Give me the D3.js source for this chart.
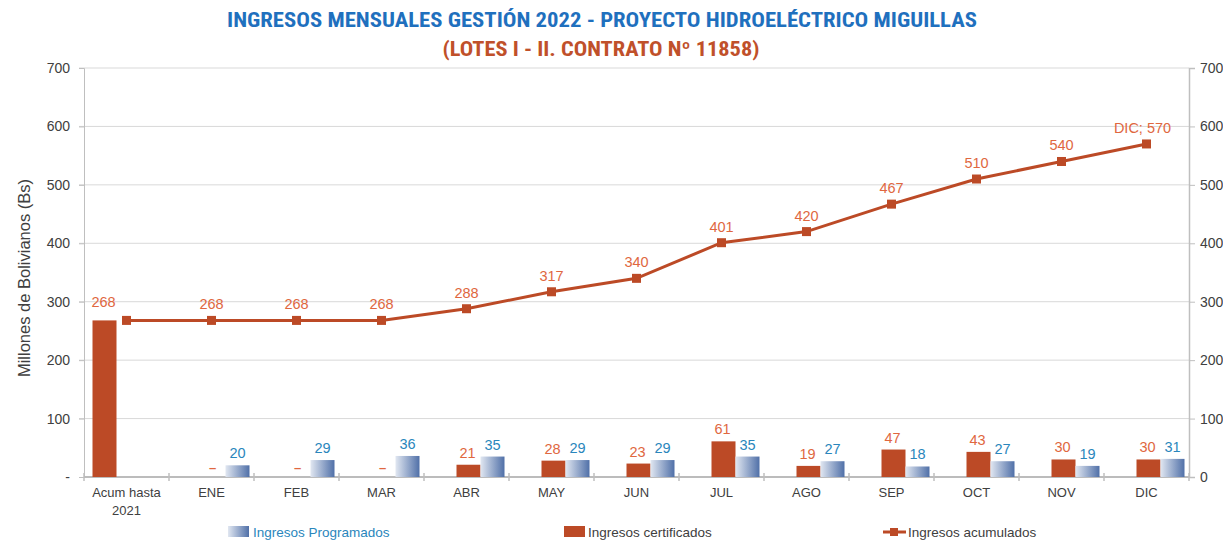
<!DOCTYPE html>
<html><head><meta charset="utf-8">
<script src="https://cdn.jsdelivr.net/npm/d3@7"></script>
<style>
body{margin:0;background:#fff;}
svg{display:block;font-family:"Liberation Sans",Arial,sans-serif;}
</style></head><body>
<svg id="c" width="1223" height="543"></svg>
<script>
const categories = ["Acum hasta 2021","ENE","FEB","MAR","ABR","MAY","JUN","JUL","AGO","SEP","OCT","NOV","DIC"];
const certificados = [268,0,0,0,21,28,23,61,19,47,43,30,30];
const programados = [null,20,29,36,35,29,29,35,27,18,27,19,31];
const acumulados = [268,268,268,268,288,317,340,401,420,467,510,540,570];
const yTicks = [0,100,200,300,400,500,600,700];

const m={l:84,r:1189,t:68,b:477};
const svg=d3.select("#c");
const red="#BC4A26", redLbl="#E0673F", blueLbl="#2A86BC", axisCol="#BFBFBF", txt="#404040";

const defs=svg.append("defs");
const g1=defs.append("linearGradient").attr("id","gb").attr("x1","0").attr("x2","1").attr("y1","0").attr("y2","0");
g1.append("stop").attr("offset","0").attr("stop-color","#E1E7F1");
g1.append("stop").attr("offset","1").attr("stop-color","#5070A8");

const x=d3.scaleBand().domain(categories).range([m.l,m.r]).padding(0);
const y=d3.scaleLinear().domain([0,700]).range([m.b,m.t]);
const sub=d3.scaleBand().domain(["prev","cert","prog"]).range([-34,38]);
const cx=c=>x(c)+x.bandwidth()/2;

// gridlines
svg.append("g").selectAll("line").data(yTicks.filter(d=>d>0)).join("line")
 .attr("x1",m.l-5).attr("x2",m.r).attr("y1",d=>y(d)).attr("y2",d=>y(d))
 .attr("stroke","#D9D9D9").attr("stroke-width",1);

// left axis
const la=svg.append("g").attr("transform",`translate(${m.l},0)`)
 .call(d3.axisLeft(y).tickValues(yTicks).tickSize(5).tickPadding(9).tickFormat(d=>d===0?"-":d));
la.select(".domain").attr("stroke",axisCol);
la.selectAll(".tick line").attr("stroke",axisCol);
la.selectAll("text").attr("fill",txt).style("font-size","14px").style("font-family","inherit");

// right axis
const ra=svg.append("g").attr("transform",`translate(${m.r},0)`)
 .call(d3.axisRight(y).tickValues(yTicks).tickSize(6).tickPadding(5).tickFormat(d=>d));
ra.select(".domain").attr("stroke",axisCol).attr("stroke-width",1.5);
ra.selectAll(".tick line").attr("stroke",axisCol);
ra.selectAll("text").attr("fill",txt).style("font-size","14px").style("font-family","inherit");

// x axis
svg.append("line").attr("x1",m.l).attr("x2",m.r).attr("y1",m.b).attr("y2",m.b).attr("stroke","#A6A6A6").attr("stroke-width",1.5);
svg.append("g").selectAll("line").data(d3.range(categories.length+1)).join("line")
 .attr("x1",i=>m.l+i*x.step()).attr("x2",i=>m.l+i*x.step())
 .attr("y1",m.b-4).attr("y2",m.b+4).attr("stroke",axisCol).attr("stroke-width",1.5);
const xl=svg.append("g").selectAll("text").data(categories).join("text")
 .attr("x",d=>cx(d)).attr("y",497).attr("text-anchor","middle").attr("fill",txt).style("font-size","13px");
xl.each(function(d){
  const t=d3.select(this);
  if(d.startsWith("Acum")){
    t.append("tspan").attr("x",cx(d)).attr("dy",0).text("Acum hasta");
    t.append("tspan").attr("x",cx(d)).attr("dy",18).text("2021");
  } else t.text(d);
});

// bars
const bars=svg.append("g");
categories.forEach((c,i)=>{
  const v=certificados[i];
  const slot=i===0?"prev":"cert";
  bars.append("rect").attr("x",cx(c)+sub(slot)).attr("width",sub.bandwidth())
   .attr("y",y(v)).attr("height",y(0)-y(v)).attr("fill",red);
  const p=programados[i];
  if(p!=null){
    bars.append("rect").attr("x",cx(c)+sub("prog")).attr("width",sub.bandwidth())
     .attr("y",y(p)).attr("height",y(0)-y(p)).attr("fill","url(#gb)");
  }
});
// bar labels
categories.forEach((c,i)=>{
  const v=certificados[i];
  const slot=i===0?"prev":"cert";
  const t=svg.append("text").attr("x",cx(c)+sub(slot)+sub.bandwidth()/2-1).attr("y",y(v)-(v===0?5:(i===0?13:7)))
   .attr("text-anchor","middle").attr("fill",redLbl).style("font-size","14.5px")
   .text(v===0?"–":v);
  if(v===0) t.style("font-weight","bold").style("font-size","13px");
  const p=programados[i];
  if(p!=null){
    svg.append("text").attr("x",cx(c)+sub("prog")+sub.bandwidth()/2).attr("y",y(p)-7)
     .attr("text-anchor","middle").attr("fill",blueLbl).style("font-size","14.5px").text(p);
  }
});

// line
const line=d3.line().x((d,i)=>cx(categories[i])).y(d=>y(d));
svg.append("path").datum(acumulados).attr("d",line).attr("fill","none").attr("stroke",red).attr("stroke-width",3);
svg.append("g").selectAll("rect").data(acumulados).join("rect")
 .attr("x",(d,i)=>cx(categories[i])-4.5).attr("y",d=>y(d)-4.5).attr("width",9).attr("height",9).attr("fill",red);
svg.append("g").selectAll("text").data(acumulados).join("text")
 .filter((d,i)=>i>0)
 .attr("x",(d,i)=>cx(categories[i+1])+(i+1===categories.length-1?-4:0)).attr("y",d=>y(d)-11)
 .attr("text-anchor","middle").attr("fill",redLbl).style("font-size","14.5px")
 .text((d,i)=>i+1===categories.length-1?categories[i+1]+"; "+d:d);

// y label
svg.append("text").attr("transform","translate(30,278) rotate(-90)").attr("text-anchor","middle")
 .attr("fill",txt).style("font-size","16.5px").text("Millones de Bolivianos (Bs)");

// titles
const tf='"Liberation Sans Narrow","Roboto Condensed","Liberation Sans",sans-serif';
const t1=svg.append("text").attr("x",602).attr("y",27).attr("text-anchor","middle").attr("fill","#1F70BE")
 .style("font-family",tf).style("font-size","20px").style("font-weight","bold")
 .text("INGRESOS MENSUALES GESTIÓN 2022 - PROYECTO HIDROELÉCTRICO MIGUILLAS");
t1.attr("textLength",750).attr("lengthAdjust","spacingAndGlyphs");
const t2=svg.append("text").attr("x",601).attr("y",56).attr("text-anchor","middle").attr("fill","#C0502A")
 .style("font-family",tf).style("font-size","20px").style("font-weight","bold")
 .text("(LOTES I - II. CONTRATO Nº 11858)");
t2.attr("textLength",317).attr("lengthAdjust","spacingAndGlyphs");

// legend
const lg=svg.append("g").style("font-size","13.5px");
lg.append("rect").attr("x",228).attr("y",526).attr("width",21).attr("height",11).attr("fill","url(#gb)");
lg.append("text").attr("x",253).attr("y",537).attr("fill",blueLbl).text("Ingresos Programados");
lg.append("rect").attr("x",564).attr("y",526).attr("width",21).attr("height",11).attr("fill",red);
lg.append("text").attr("x",588).attr("y",537).attr("fill",txt).text("Ingresos certificados");
lg.append("line").attr("x1",883).attr("x2",906).attr("y1",532).attr("y2",532).attr("stroke",red).attr("stroke-width",3);
lg.append("rect").attr("x",890).attr("y",528).attr("width",8).attr("height",8).attr("fill",red);
lg.append("text").attr("x",908).attr("y",537).attr("fill",txt).text("Ingresos acumulados");
</script>
</body></html>
